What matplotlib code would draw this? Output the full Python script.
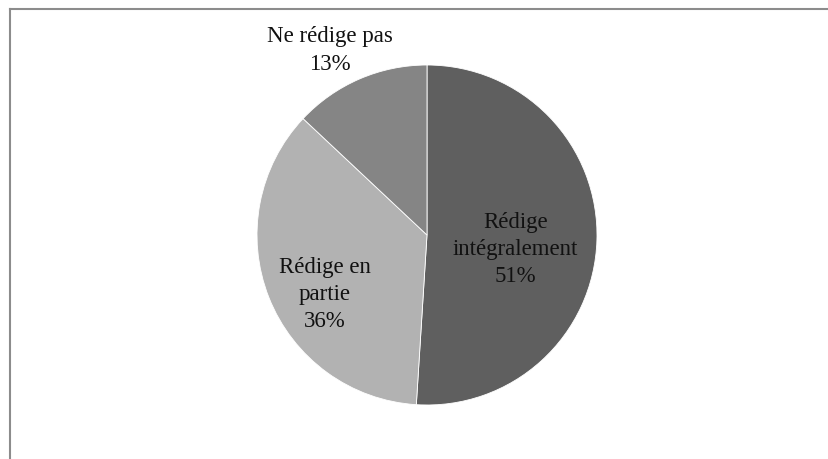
import matplotlib
matplotlib.use("Agg")
import matplotlib.pyplot as plt
from matplotlib.lines import Line2D

# data
labels = ["Rédige\nintégralement", "Rédige en\npartie", "Ne rédige pas"]
shares = [51, 36, 13]
colors = ["#5f5f5f", "#b2b2b2", "#858585"]

# label centres, in units of the pie radius
label_pos = [(0.52, -0.085), (-0.60, -0.35), (-0.57, 1.085)]

W, H = 829, 459
fig = plt.figure(figsize=(W / 100, H / 100), dpi=100)

# chart frame (only top and left edge show in the crop)
fig.add_artist(Line2D([10.5 / W, 10.5 / W], [0, 1 - 8.5 / H], color="#8c8c8c", lw=1.5))
fig.add_artist(Line2D([10.5 / W, 1], [1 - 8.5 / H, 1 - 8.5 / H], color="#8c8c8c", lw=1.5))

cx, cy, r = 427, 459 - 235, 170
ax = fig.add_axes([(cx - r) / W, (cy - r) / H, 2 * r / W, 2 * r / H])
wedges, _ = ax.pie(shares, colors=colors, startangle=90, counterclock=False,
                   wedgeprops=dict(edgecolor="white", linewidth=0.6))
ax.set_xlim(-1, 1)
ax.set_ylim(-1, 1)
ax.axis("off")

font = dict(family="Liberation Serif", size=16.5, color="#111111")
for lab, val, (x, y) in zip(labels, shares, label_pos):
    ax.text(x, y, f"{lab}\n{val}%",
            ha="center", va="center", multialignment="center",
            linespacing=1.4, clip_on=False, **font)

fig.savefig("out.png", dpi=100)
